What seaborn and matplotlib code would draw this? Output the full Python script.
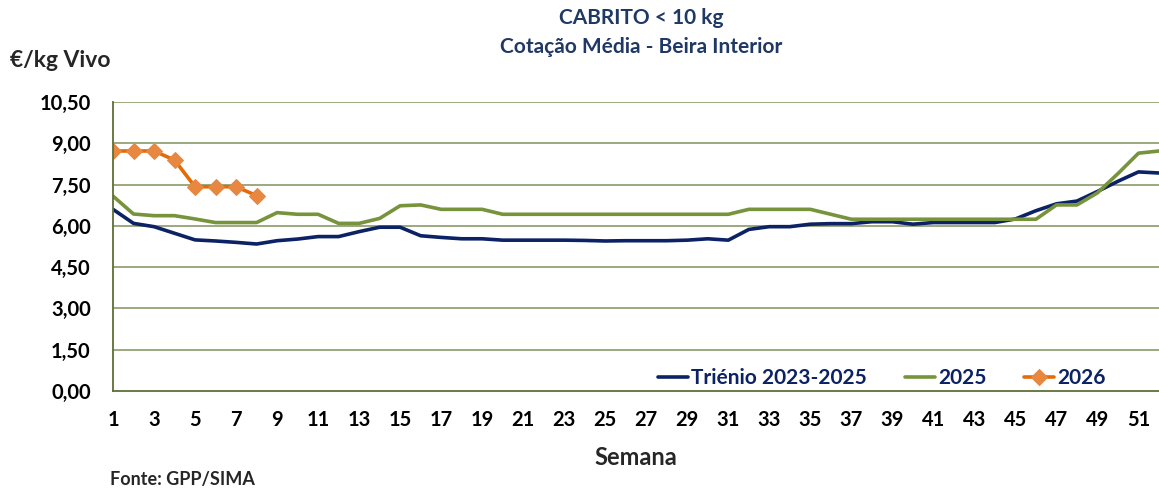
import numpy as np
import pandas as pd
import matplotlib
matplotlib.use("Agg")
import matplotlib.pyplot as plt
import seaborn as sns

# dados (EUR/kg vivo, por semana)
semanas = list(range(1, 53))

trienio = [6.60, 6.09, 5.97, 5.73, 5.49, 5.45, 5.40, 5.34, 5.46, 5.52,
           5.61, 5.61, 5.79, 5.95, 5.95, 5.64, 5.58, 5.53, 5.53, 5.48,
           5.48, 5.48, 5.48, 5.47, 5.45, 5.46, 5.46, 5.46, 5.48, 5.53,
           5.48, 5.87, 5.97, 5.97, 6.06, 6.08, 6.08, 6.15, 6.15, 6.06,
           6.12, 6.12, 6.12, 6.12, 6.25, 6.55, 6.80, 6.90, 7.25, 7.62,
           7.96, 7.92]

ano_2025 = [7.08, 6.43, 6.37, 6.37, 6.25, 6.12, 6.12, 6.12, 6.48, 6.42,
            6.42, 6.09, 6.09, 6.27, 6.73, 6.76, 6.60, 6.60, 6.60, 6.42,
            6.42, 6.42, 6.42, 6.42, 6.42, 6.42, 6.42, 6.42, 6.42, 6.42,
            6.42, 6.60, 6.60, 6.60, 6.60, 6.42, 6.24, 6.24, 6.24, 6.24,
            6.24, 6.24, 6.24, 6.24, 6.24, 6.24, 6.76, 6.76, 7.20, 7.90,
            8.64, 8.72]

semanas_2026 = [1, 2, 3, 4, 5, 6, 7, 8]
ano_2026 = [8.72, 8.72, 8.72, 8.39, 7.42, 7.42, 7.42, 7.10]

y_ticks = [0, 1.5, 3, 4.5, 6, 7.5, 9, 10.5]

sns.set_style("white")
plt.rcParams['font.family'] = ['Lato', 'DejaVu Sans']
plt.rcParams['font.weight'] = 'bold'

navy = "#0B2265"
verde = "#77933C"
laranja = "#E36C09"
grelha = "#8A9A6A"

fig = plt.figure(figsize=(11.59, 4.92), dpi=100)
ax = fig.add_axes([0.0975, 0.2053, 0.9025, 0.5874])

sns.lineplot(x=semanas, y=trienio, ax=ax, color=navy, linewidth=2.6,
             label="Triénio 2023-2025")
sns.lineplot(x=semanas, y=ano_2025, ax=ax, color=verde, linewidth=2.6,
             label="2025")
sns.lineplot(x=semanas_2026, y=ano_2026, ax=ax, color=laranja, linewidth=2.6,
             marker="D", markersize=8, markerfacecolor="#E8873F",
             markeredgecolor="#E8873F", label="2026")

ax.set_xlim(1, 52)
ax.set_ylim(0, 10.5)
ax.set_yticks(y_ticks)
ax.set_yticklabels([f"{v:.2f}".replace(".", ",") for v in y_ticks])
ax.set_xticks(semanas)
ax.set_xticklabels([str(s) if s % 2 == 1 else "" for s in semanas])

for v in y_ticks[1:]:
    ax.axhline(v, color=grelha, linewidth=1.2, zorder=0)

for lado in ["top", "right"]:
    ax.spines[lado].set_visible(False)
ax.spines["left"].set_color("#5E7035")
ax.spines["bottom"].set_color("#5E7035")
ax.spines["left"].set_linewidth(1.3)
ax.spines["bottom"].set_linewidth(1.3)
ax.tick_params(axis="both", direction="out", length=5, width=1.2,
               color="#5E7035", labelsize=14.5, labelcolor="black")
ax.tick_params(axis="x", pad=9)
ax.tick_params(axis="y", pad=11)
for t in ax.get_xticklabels() + ax.get_yticklabels():
    t.set_fontweight("bold")

ax.set_xlabel("Semana", fontsize=17, fontweight="bold", labelpad=11)
ax.set_ylabel("")

fig.text(0.0085, 0.878, "€/kg Vivo", fontsize=16.5, fontweight="bold",
         ha="left", va="center")
fig.text(0.553, 0.963, "CABRITO < 10 kg", fontsize=15, fontweight="bold",
         color="#1F3864", ha="center", va="center")
fig.text(0.553, 0.905, "Cotação Média - Beira Interior", fontsize=15,
         fontweight="bold", color="#1F3864", ha="center", va="center")
fig.text(0.095, 0.025, "Fonte: GPP/SIMA", fontsize=13, fontweight="bold",
         ha="left", va="center")

leg = ax.legend(loc="center", bbox_to_anchor=(0.735, 0.045), ncol=3,
                frameon=False, fontsize=15, handlelength=1.45,
                handletextpad=0.15, columnspacing=1.8)
for txt in leg.get_texts():
    txt.set_color("#0B2265")
    txt.set_fontweight("bold")

fig.savefig("out.png", dpi=100)
